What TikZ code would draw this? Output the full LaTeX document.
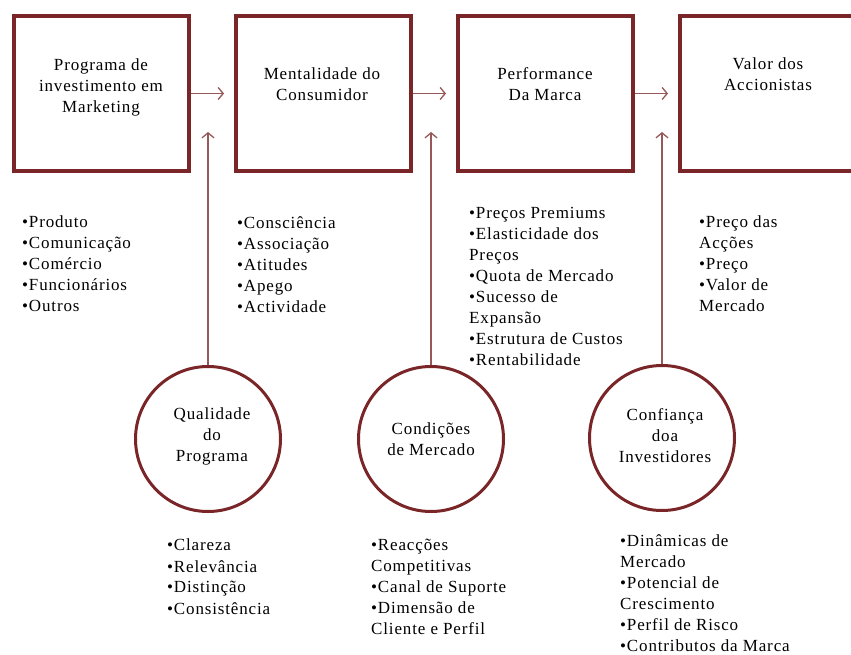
\documentclass[tikz,border=0pt]{standalone}
\usepackage{fontspec}
\setmainfont{Liberation Serif}[LetterSpace=5]
\usetikzlibrary{arrows.meta, positioning}
\definecolor{boxred}{RGB}{122,38,40}
\definecolor{linkred}{RGB}{150,88,88}

\begin{document}
\begin{tikzpicture}[x=1pt, y=-1pt, >={Straight Barb[length=5pt,width=12pt]},
    node distance=222pt, font=\fontsize{17}{21}\selectfont,
    box/.style={draw=boxred, line width=4pt, minimum width=175pt, minimum height=155pt},
    disc/.style={circle, draw=boxred, line width=3pt, minimum size=145pt},
    title/.style={align=center, inner sep=0pt},
    items/.style={align=left, anchor=north west, inner sep=0pt},
    link/.style={draw=linkred, line width=1.3pt}]

    \clip (0,0) rectangle (851,655);

    %define the boxes
    \node[box] (b1) at (101.5,93.5) {};
    \node[box] (b2) [right of=b1] {};
    \node[box] (b3) [right of=b2] {};
    \node[box] (b4) [right of=b3] {};

    \node[title] (t1) at (101,87) {Programa de\\investimento em\\Marketing};
    \node[title] (t2) at (322,84) {Mentalidade do\\Consumidor};
    \node[title] (t3) at (545,84) {Performance\\Da Marca};
    \node[title] (t4) at (768,74) {Valor dos\\Accionistas};

    %define the circles
    \node[disc] (c1) at (208,439) {};
    \node[disc] (c2) at (431,439) {};
    \node[disc] (c3) at (662,438) {};

    \node[title] (q1) at (212,436) {Qualidade\\do\\Programa};
    \node[title] (q2) at (431,439) {Condições\\de Mercado};
    \node[title] (q3) at (665,436) {Confiança\\doa\\Investidores};

    \coordinate (a1) at (208,132);
    \coordinate (a2) at (431,132);
    \coordinate (a3) at (662,132);

    %define the lists
    \node[items] (l1) at (22,216) {•Produto\\•Comunicação\\•Comércio\\•Funcionários\\•Outros};
    \node[items] (l2) at (237,216) {•Consciência\\•Associação\\•Atitudes\\•Apego\\•Actividade};
    \node[items] (l3) at (469,207) {•Preços Premiums\\•Elasticidade dos\\Preços\\•Quota de Mercado\\•Sucesso de\\Expansão\\•Estrutura de Custos\\•Rentabilidade};
    \node[items] (l4) at (699,216) {•Preço das\\Acções\\•Preço\\•Valor de\\Mercado};
    \node[items] (l5) at (167,539) {•Clareza\\•Relevância\\•Distinção\\•Consistência};
    \node[items] (l6) at (371,539) {•Reacções\\Competitivas\\•Canal de Suporte\\•Dimensão de\\Cliente e Perfil};
    \node[items] (l7) at (620,534) {•Dinâmicas de\\Mercado\\•Potencial de\\Crescimento\\•Perfil de Risco\\•Contributos da Marca};

    %define the links
    \path[link, ->, shorten >=10pt] (b1) edge (b2)
                                    (b2) edge (b3)
                                    (b3) edge (b4);
    \path[link, ->] (c1) edge (a1)
                    (c2) edge (a2)
                    (c3) edge (a3);

\end{tikzpicture}
\end{document}
